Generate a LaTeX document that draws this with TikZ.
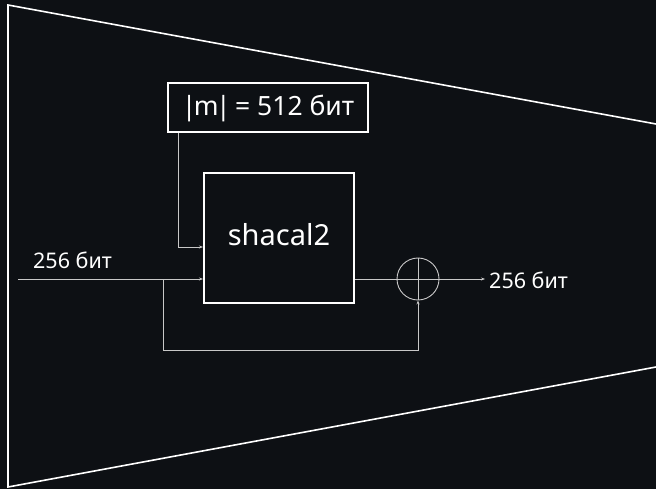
\documentclass[tikz,border=0pt]{standalone}
\usepackage{fontspec}
\setmainfont{Noto Sans}
\usetikzlibrary{arrows.meta}
\definecolor{bg}{HTML}{0D1014}
\definecolor{wire}{HTML}{C8C8C8}
\tikzset{
  frame/.style={draw=white, line width=1.6pt},
  blockbox/.style={draw=white, line width=2pt, fill=bg},
  wireline/.style={draw=wire, line width=0.9pt},
  wirearrow/.style={wireline, -{Stealth[length=4pt,width=3pt]}},
  lbl/.style={text=white, inner sep=0pt, font=\fontsize{21.5}{25}\selectfont},
}
\begin{document}
\begin{tikzpicture}[x=1pt,y=-1pt]
  \fill[bg] (0,0) rectangle (656,489);
  \useasboundingbox (0,0) rectangle (656,489);
  % trapezoid frame
  \coordinate (tl) at (8,5);
  \coordinate (tr) at (656,124);
  \coordinate (bl) at (8,487);
  \coordinate (br) at (656,367);
  \draw[frame] (tr) -- (tl) -- (bl) -- (br);
  % blocks
  \node[blockbox, minimum width=200pt, minimum height=49pt, inner sep=0pt,
        text=white, font=\fontsize{26.5}{30}\selectfont] (key) at (268,108)
        {|\kern-2.5pt m\kern-2.5pt|\kern-2.5pt{} = 512 бит};
  \node[blockbox, minimum width=150pt, minimum height=130pt, inner sep=0pt] (enc) at (279,238) {};
  \node[text=white, inner sep=0pt, font=\fontsize{29}{34}\selectfont] (enclbl) at (279,235) {shacal2};
  \node[circle, draw=wire, line width=0.9pt, minimum size=42pt, inner sep=0pt] (xor) at (418,279) {};
  \draw[wireline] (xor.north) -- (xor.south);
  \draw[wireline] (xor.west) -- (xor.east);
  % input and output
  \coordinate (in) at (18,279);
  \coordinate (split) at (163,279);
  \coordinate (fbl) at (163,350);
  \coordinate (fbr) at (418,350);
  \coordinate (out) at (485,279);
  \coordinate (kd) at (178,247);
  \draw[wirearrow] (in) -- (enc.west |- in);
  \draw[wirearrow] (key.south -| kd) -- (kd) -- (enc.west |- kd);
  \draw[wireline] (enc.east |- xor) -- (xor.west);
  \draw[wirearrow] (xor.east) -- (out);
  \draw[wirearrow] (split) -- (fbl) -- (fbr) -- (xor.south);
  \node[lbl, anchor=base west] (inlbl) at (33,269) {256 бит};
  \node[lbl, anchor=west] (outlbl) at (489,280) {256 бит};
\end{tikzpicture}
\end{document}
